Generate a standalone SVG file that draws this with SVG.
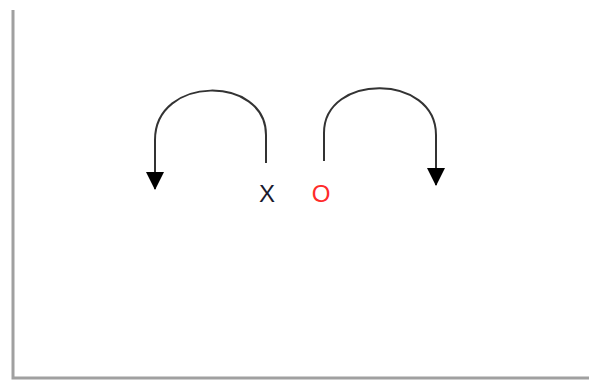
<svg xmlns="http://www.w3.org/2000/svg" width="589" height="383" viewBox="0 0 589 383">
<style>
.frame{fill:none;stroke:#a0a0a0;stroke-width:3}
.arc{fill:none;stroke:#333;stroke-width:2}
.lbl{font-family:"Liberation Sans",Arial,sans-serif;font-size:24px;text-anchor:middle}
</style>
<defs>
<marker id="ah2" viewBox="0 0 18 18" refX="17" refY="9" markerWidth="18" markerHeight="18" markerUnits="userSpaceOnUse" orient="auto">
<path d="M0,0 L18,9 L0,18 Z" fill="#000"/>
</marker>
</defs>
<rect width="589" height="383" fill="#fff"/>
<path class="frame" d="M13,10 L13,378 L589,378"/>
<g id="connectors">
<path class="arc" d="M266,163 L266,135 C266,75 155,75 155,140 L155,189" marker-end="url(#ah2)"/>
<path class="arc" d="M324,161 L324,133 C324,73 436,73 436,135 L436,185" marker-end="url(#ah2)"/>
</g>
<g id="x"><text class="lbl" x="267" y="202" fill="#1a1a2e">X</text></g>
<g id="o"><text class="lbl" x="321" y="202" fill="#ff2a2a">O</text></g>
</svg>
